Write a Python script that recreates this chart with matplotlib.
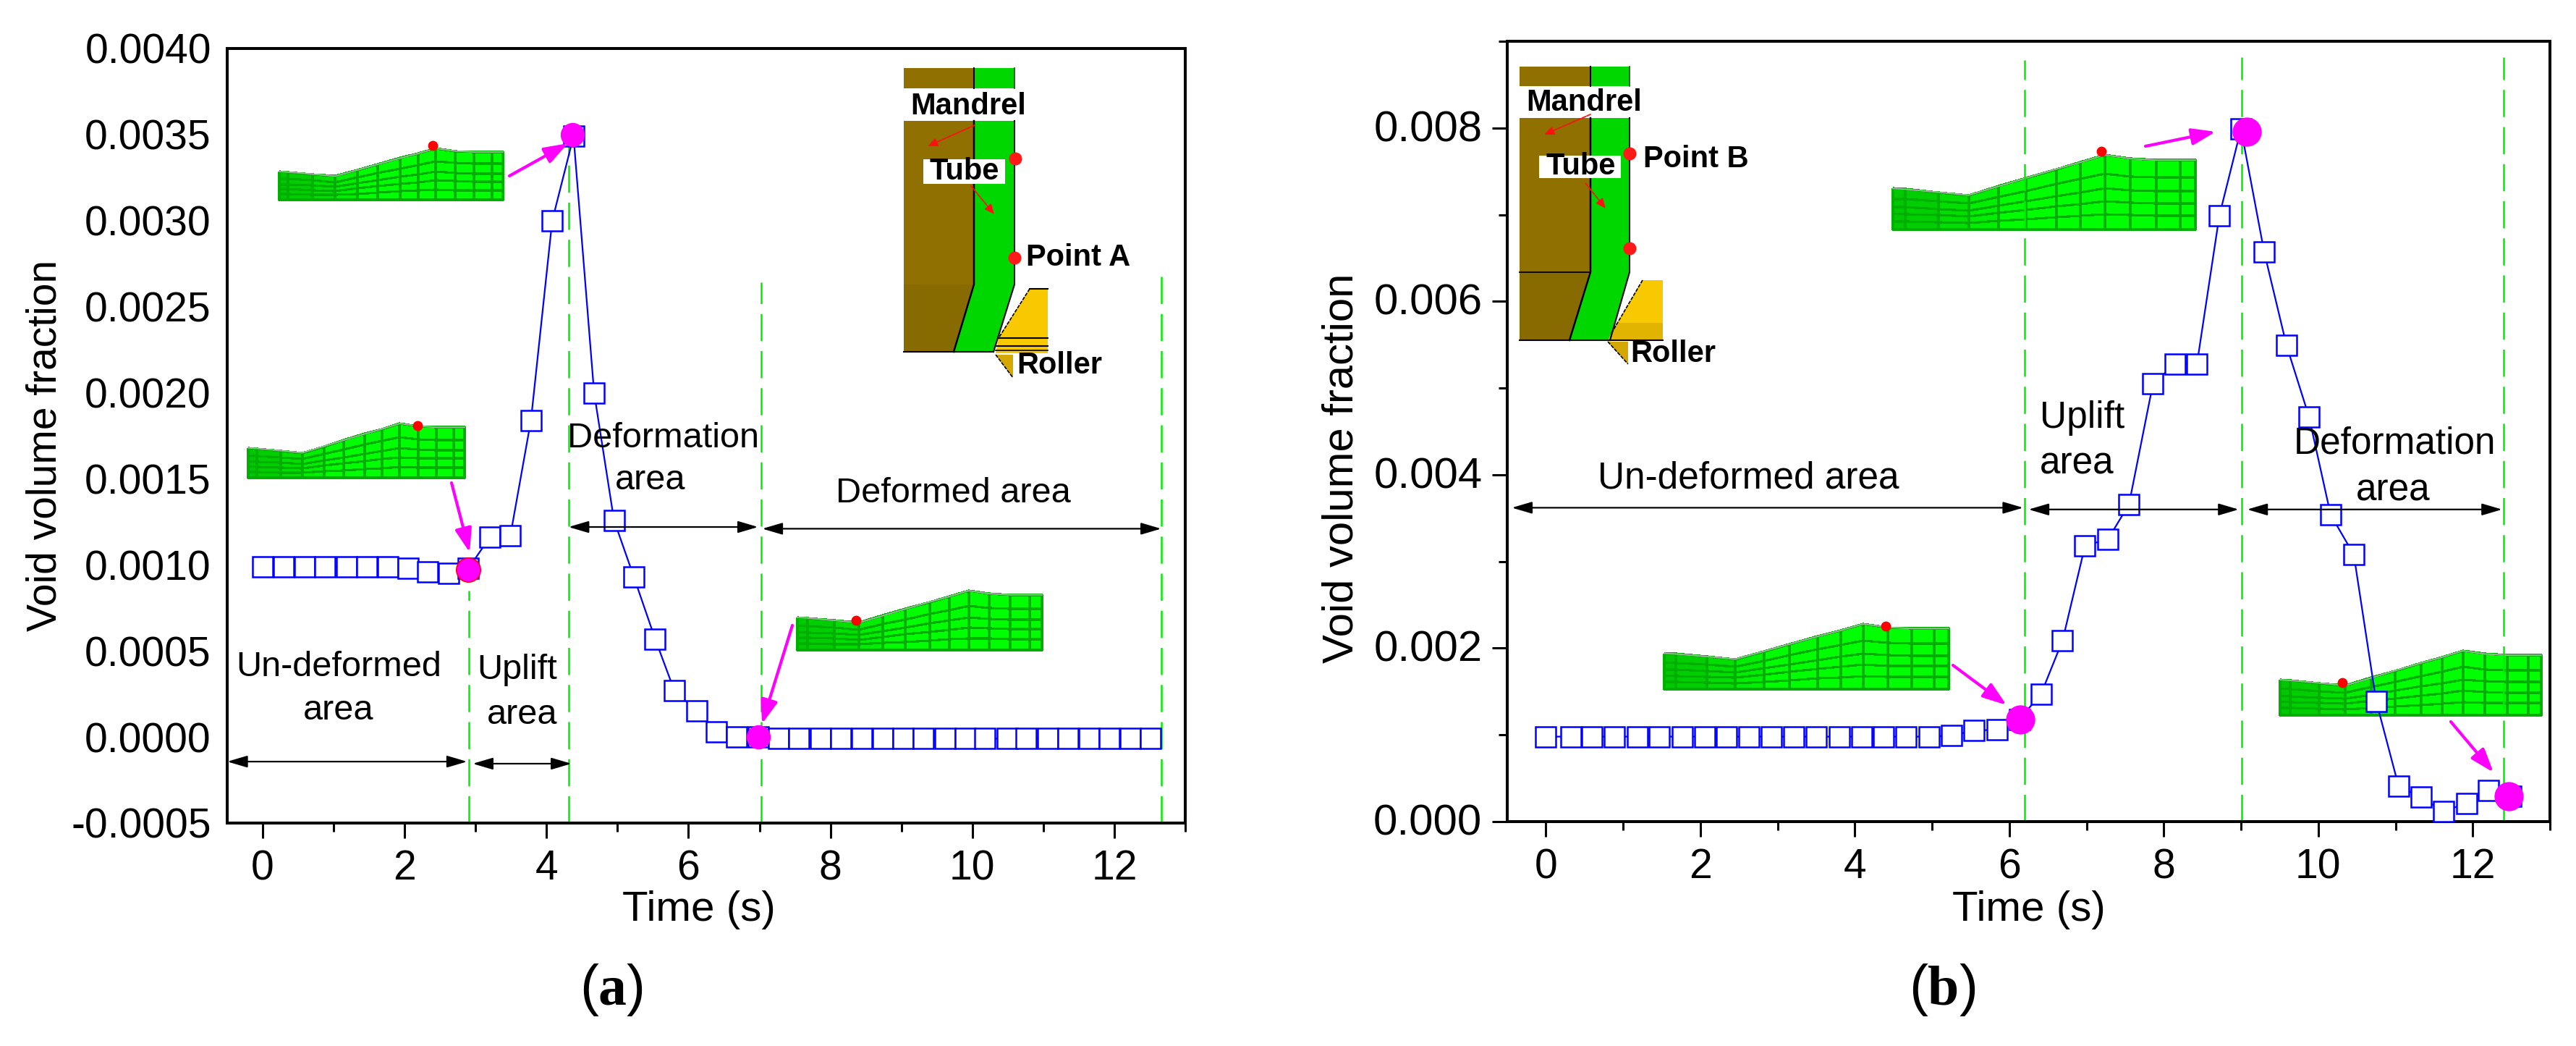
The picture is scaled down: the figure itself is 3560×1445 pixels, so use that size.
import numpy as np
import matplotlib
matplotlib.use('Agg')
import matplotlib.pyplot as plt
from matplotlib.colors import LinearSegmentedColormap
from matplotlib.patches import Polygon, Rectangle
from matplotlib.transforms import ScaledTranslation

plt.rcParams['font.family'] = ['Liberation Sans', 'DejaVu Sans']
plt.rcParams['mathtext.fontset'] = 'custom'
plt.rcParams['mathtext.rm'] = 'Liberation Serif'
plt.rcParams['mathtext.bf'] = 'Liberation Serif:bold'

# panel (a)
time_a = [0, 0.30, 0.59, 0.88, 1.18, 1.47, 1.76, 2.05, 2.32, 2.62, 2.90, 3.20, 3.49, 3.78, 4.08,
          4.38, 4.67, 4.95, 5.23, 5.53, 5.80, 6.12, 6.39, 6.68, 6.98, 7.27, 7.56, 7.86, 8.15,
          8.44, 8.74, 9.02, 9.31, 9.61, 9.90, 10.18, 10.49, 10.76, 11.06, 11.35, 11.64, 11.93,
          12.22, 12.51]
void_a = [0.00099, 0.00099, 0.00099, 0.00099, 0.00099, 0.00099, 0.00099, 0.00098, 0.00096,
          0.00095, 0.00098, 0.00116, 0.00117, 0.00184, 0.0030, 0.00349, 0.0020, 0.00126,
          0.00093, 0.00057, 0.00027, 0.00015, 0.00003, 0.0, 0.0, -0.00001, -0.00001, -0.00001,
          -0.00001, -0.00001, -0.00001, -0.00001, -0.00001, -0.00001, -0.00001, -0.00001,
          -0.00001, -0.00001, -0.00001, -0.00001, -0.00001, -0.00001, -0.00001, -0.00001]
peak_t_a = [2.90, 4.36, 6.98]
peak_v_a = [0.00097, 0.0035, 0.0]
yticks_a = [-0.0005, 0.0, 0.0005, 0.0010, 0.0015, 0.0020, 0.0025, 0.0030, 0.0035, 0.0040]
ylabels_a = ['-0.0005', '0.0000', '0.0005', '0.0010', '0.0015', '0.0020', '0.0025', '0.0030', '0.0035', '0.0040']
vlines_a = [(2.91, 0.00085), (4.31, 0.0035), (7.03, 0.00264), (12.66, 0.00273)]
spans_a = [(-0.5, 2.88, -0.000143), (2.96, 4.35, -0.000155), (4.31, 6.98, 0.00122), (7.04, 12.66, 0.00121)]

# panel (b)
time_b = [0, 0.32, 0.60, 0.89, 1.19, 1.47, 1.77, 2.06, 2.34, 2.63, 2.92, 3.21, 3.50, 3.80, 4.09,
          4.37, 4.66, 4.96, 5.25, 5.54, 5.84, 6.13, 6.41, 6.69, 6.98, 7.28, 7.55, 7.86, 8.15,
          8.43, 8.72, 9.00, 9.30, 9.59, 9.88, 10.16, 10.46, 10.75, 11.04, 11.33, 11.62, 11.92,
          12.20, 12.49]
void_b = [0.00098, 0.00098, 0.00098, 0.00098, 0.00098, 0.00098, 0.00098, 0.00098, 0.00098,
          0.00098, 0.00098, 0.00098, 0.00098, 0.00098, 0.00098, 0.00098, 0.00098, 0.00098,
          0.00099, 0.00105, 0.00106, 0.00118, 0.00147, 0.00209, 0.00318, 0.00326, 0.00366,
          0.00505, 0.00528, 0.00528, 0.00699, 0.00799, 0.00657, 0.00549, 0.00467, 0.00354,
          0.00308, 0.00139, 0.00041, 0.00028, 0.00012, 0.00021, 0.00036, 0.00029]
peak_t_b = [6.14, 9.07, 12.47]
peak_v_b = [0.00118, 0.00796, 0.00029]
yticks_b = [0.0, 0.002, 0.004, 0.006, 0.008]
ylabels_b = ['0.000', '0.002', '0.004', '0.006', '0.008']
vlines_b = [(6.20, 0.00878), (9.01, 0.00882), (12.40, 0.00882)]
spans_b = [(-0.44, 6.18, 0.00362), (6.25, 8.97, 0.0036), (9.08, 12.38, 0.0036)]

xticks = [0, 2, 4, 6, 8, 10, 12]

# mesh outline shared by the small insets
mesh_u = [0, 0.04, 0.15, 0.25, 0.35, 0.44, 0.54, 0.62, 0.70, 0.785, 0.87, 0.95, 1]
mesh_top = [0.45, 0.46, 0.50, 0.54, 0.42, 0.31, 0.19, 0.10, 0, 0.05, 0.07, 0.07, 0.07]
mesh_s = [0, 0.25, 0.45, 0.62, 0.8, 1]

W, H = 3560, 1445
fig = plt.figure(figsize=(W / 100, H / 100), dpi=100)

# pixel axes behind and in front of the charts
bg = fig.add_axes([0, 0, 1, 1], zorder=0)
fg = fig.add_axes([0, 0, 1, 1], zorder=5)
for o in (bg, fg):
    o.set_xlim(0, W)
    o.set_ylim(H, 0)
    o.axis('off')

greens = LinearSegmentedColormap.from_list('g', ['#00b800', '#00ff00'])


def draw_mesh(x0, x1, top, bottom, dot):
    u = np.array(mesh_u)
    t = np.array(mesh_top)
    s = np.array(mesh_s)
    X = np.tile(x0 + u * (x1 - x0), (len(s), 1))
    Y = np.array([top + (t + (1 - t) * k) * (bottom - top) for k in s])
    C = np.tile((u[:-1] + 0.1) * 2.2, (len(s) - 1, 1)).clip(0, 1)
    bg.pcolormesh(X, Y, C, cmap=greens, vmin=0, vmax=1, edgecolors='#00b000', linewidth=1.6)
    bg.plot(X[0], Y[0], color='#a8b8a8', lw=1.2)
    bg.plot(dot[0], dot[1], 'o', color='#ff0000', ms=10, mew=0)


def draw_inset(xs, ys, roller, texts, tube_box, dots, red_arrows, roller_lines):
    # xs: brown left, interface, right, foot of interface, foot of right side
    bl, mid, right, mid2, right2 = xs
    ytop, g0, g1, yc, yb = ys
    brown = '#8f7000'
    bg.add_patch(Rectangle((bl, ytop), mid - bl, g0 - ytop, fc=brown, ec='none'))
    bg.add_patch(Rectangle((bl, g1), mid - bl, yc - g1, fc=brown, ec='none'))
    bg.add_patch(Polygon([(bl, yc), (mid, yc), (mid2, yb), (bl, yb)], fc='#876a00', ec='none'))
    bg.add_patch(Rectangle((mid, ytop), right - mid, g0 - ytop, fc='#00d600', ec='none'))
    bg.add_patch(Polygon([(mid, g1), (right, g1), (right, yc), (right2, yb), (mid2, yb), (mid, yc)],
                         fc='#00d600', ec='none'))
    bg.plot([mid, mid], [ytop, g0], color='k', lw=1.5)
    bg.plot([mid, mid, mid2], [g1, yc, yb], color='k', lw=1.8)
    bg.plot([right, right], [ytop, g0], color='#333333', lw=1.2)
    bg.plot([right, right, right2], [g1, yc, yb], color='k', lw=1.5)
    bg.plot([bl, right2], [yb, yb], color='k', lw=1.5)
    rx0, ry0, rx1, ry1, rx2, ry2, wx, wy = roller
    bg.add_patch(Polygon([(rx0, ry0), (rx1, ry0), (rx1, ry1), (rx2, ry1), (rx2 + 4, ry2)],
                         fc='#f8c800', ec='none'))
    bg.add_patch(Polygon([(rx2, ry1 + 2), (wx, ry1 + 2), (wx, wy)], fc='#d4a800', ec='none'))
    bg.plot([rx0, rx2 + 4], [ry0, ry2], color='k', lw=1.2, ls=(0, (3, 1)))
    bg.plot([rx2, wx], [ry1 + 2, wy], color='k', lw=1.2, ls=(0, (3, 1)))
    if roller_lines:
        bg.plot([rx2 + 4, rx1], [ry2, ry2], color='k', lw=1.5)
        bg.plot([rx2 + 1, rx1], [ry1 - 10, ry1 - 10], color='k', lw=1.5)
        bg.plot([rx2, rx1], [ry1 - 4, ry1 - 4], color='k', lw=1.2)
        bg.plot([rx0, rx1], [ry0, ry0], color='k', lw=1.5)
    else:
        bg.add_patch(Polygon([(rx2 + 12, ry1 - 24), (rx1, ry1 - 24), (rx1, ry1), (rx2, ry1)],
                             fc='#e0b400', ec='none'))
        bg.plot([rx2, rx1], [ry1, ry1], color='k', lw=1.5)
    bx0, by0, bx1, by1 = tube_box
    bg.add_patch(Rectangle((bx0, by0), bx1 - bx0, by1 - by0, fc='white', ec='none', zorder=3))
    for txt, x, y, ha in texts:
        bg.text(x, y, txt, fontsize=30, fontweight='bold', ha=ha, va='center', zorder=4)
    for d in dots:
        bg.plot(d[0], d[1], 'o', color='#ff1a1a', ms=13, mew=0, zorder=4)
    for a in red_arrows:
        bg.annotate('', xy=a[1], xytext=a[0], zorder=4,
                    arrowprops=dict(arrowstyle='-|>,head_length=8,head_width=3.5', color='#ff1010', lw=1.3,
                                    ls=(0, (3, 1)), shrinkA=0, shrinkB=0, mutation_scale=1))


def draw_panel(rect, t, v, pt, pv, ylim, yticks, ylabels, vlines, spans, ms_peak, ysize):
    l, r, top, b = rect
    ax = fig.add_axes([l / W, 1 - b / H, (r - l) / W, (b - top) / H], zorder=1)
    ax.patch.set_alpha(0)
    ax.plot(t, v, color='#0000ff', lw=1.6, marker='s', ms=19.5, mfc='white', mec='#0000ff', mew=1.8,
            clip_on=False, zorder=3)
    ax.plot(pt, pv, 'o', color='#ff00ff', ms=ms_peak, mew=0, clip_on=False, zorder=4)
    for x, y in vlines:
        ax.plot([x, x], [ylim[0], y], color='#00ee00', lw=1.8, ls=(0, (15, 5.5)), zorder=2)
    for x0, x1, y in spans:
        ax.annotate('', xy=(x1, y), xytext=(x0, y),
                    arrowprops=dict(arrowstyle='<|-|>,head_length=17,head_width=5', color='k', lw=1.6,
                                    shrinkA=0, shrinkB=0, mutation_scale=1))
    ax.set_xlim(-0.5, 13)
    ax.set_ylim(*ylim)
    ax.set_xticks(xticks)
    ax.set_xticks([1, 3, 5, 7, 9, 11, 13], minor=True)
    ax.set_yticks(yticks)
    ax.set_yticklabels(ylabels)
    ax.tick_params(axis='x', which='major', labelsize=41, length=15, width=2.2, pad=11)
    ax.tick_params(axis='y', which='major', labelsize=ysize, length=15, width=2.2, pad=10)
    ax.tick_params(axis='both', which='minor', length=8.6, width=2.2)
    for lab in ax.get_yticklabels():
        lab.set_transform(lab.get_transform() + ScaledTranslation(0, 3 / 100, fig.dpi_scale_trans))
    for sp in ax.spines.values():
        sp.set_linewidth(2.9)
    return ax


ax_a = draw_panel((314, 1638, 67, 1137), time_a, void_a, peak_t_a, peak_v_a, (-0.0005, 0.0040), yticks_a,
                  ylabels_a, vlines_a, spans_a, 24, 41)
ax_a.tick_params(axis='y', which='major', length=0, pad=16)
# the first marked point has a red rim in panel (a)
ax_a.plot(peak_t_a[0], peak_v_a[0], 'o', color='#ff00ff', mec='#ff0000', ms=24, mew=1.2, zorder=4)

ax_b = draw_panel((2083, 3524, 57, 1135), time_b, void_b, peak_t_b, peak_v_b, (0.0, 0.009), yticks_b,
                  ylabels_b, vlines_b, spans_b, 29, 43)
ax_b.set_yticks([0.001, 0.003, 0.005, 0.007, 0.009], minor=True)

draw_mesh(386, 695, 205, 276, (598, 201))
draw_mesh(343, 642, 585, 660, (577, 588))
draw_mesh(1102, 1440, 816, 898, (1183, 857))
draw_mesh(2616, 3034, 214, 317, (2904, 209))
draw_mesh(2300, 2693, 862, 952, (2606, 865))
draw_mesh(3151, 3512, 899, 988, (3237, 943))

draw_inset((1249, 1346, 1402, 1318, 1373), (94, 122, 167, 393, 486),
           (1423, 399, 1448, 488, 1376, 467, 1400, 522),
           [('Mandrel', 1338, 147, 'center'), ('Tube', 1333, 237, 'center'),
            ('Point A', 1418, 356, 'left'), ('Roller', 1405, 505, 'left')],
           (1276, 220, 1389, 254), [(1403, 219), (1402, 356)],
           [((1347, 173), (1282, 202)), ((1342, 257), (1374, 296))], True)
draw_inset((2100, 2198, 2252, 2169, 2225), (92, 119, 163, 376, 470),
           (2270, 387, 2298, 470, 2222, 462, 2250, 503),
           [('Mandrel', 2189, 142, 'center'), ('Tube', 2185, 230, 'center'),
            ('Point B', 2271, 220, 'left'), ('Roller', 2253, 489, 'left')],
           (2127, 215, 2240, 246), [(2252, 212), (2252, 343)],
           [((2198, 158), (2134, 186)), ((2191, 253), (2219, 288))], False)
bg.plot([2100, 2198], [376, 376], color='k', lw=1.3)

for a in [((704, 243), (785, 198)), ((624, 667), (649, 763)), ((1095, 864), (1053, 1000)),
          ((2965, 202), (3062, 182)), ((2699, 919), (2773, 974)), ((3387, 997), (3446, 1067))]:
    fg.annotate('', xy=a[1], xytext=a[0],
                arrowprops=dict(arrowstyle='-|>,head_length=20,head_width=7', color='#ff00ff', lw=3,
                                shrinkA=0, shrinkB=0, mutation_scale=1))

region_text = [('Un-deformed', 468, 922, 35), ('area', 468, 981, 35), ('Uplift', 715, 925, 35),
               ('area', 722, 988, 35), ('Deformation', 917, 605, 35), ('area', 899, 664, 35),
               ('Deformed area', 1317, 681, 35), ('Un-deformed area', 2416, 661, 37),
               ('Uplift', 2878, 578, 37), ('area', 2870, 641, 37),
               ('Deformation', 3310, 613, 37), ('area', 3307, 678, 37)]
for txt, x, y, size in region_text:
    fg.text(x, y, txt, fontsize=size, ha='center', va='center')

fg.text(63, 615, 'Void volume fraction', fontsize=41, rotation=90, ha='center', va='center')
fg.text(1854, 647, 'Void volume fraction', fontsize=43, rotation=90, ha='center', va='center')
fg.text(966, 1257, 'Time (s)', fontsize=42, ha='center', va='center')
fg.text(2804, 1257, 'Time (s)', fontsize=42, ha='center', va='center')
fg.text(845, 1367, r'($\mathbf{a}$)', fontsize=56, ha='center', va='center')
fg.text(2684, 1367, r'($\mathbf{b}$)', fontsize=56, ha='center', va='center')

fig.savefig('out.png', dpi=100)
